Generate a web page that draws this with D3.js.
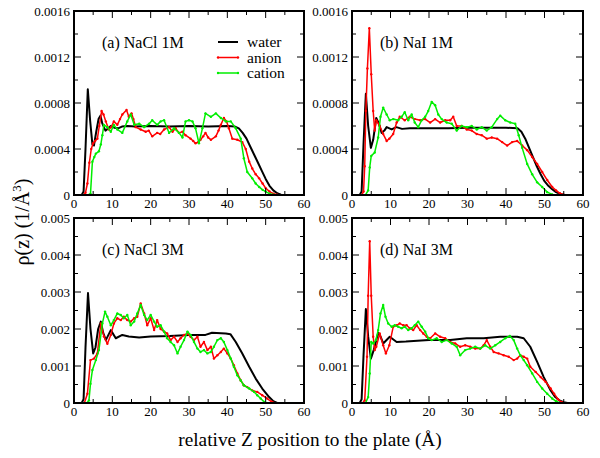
<!DOCTYPE html>
<html>
<head>
<meta charset="utf-8">
<script src="https://cdn.jsdelivr.net/npm/d3@7"></script>
<style>
  html, body { margin: 0; padding: 0; background: #fff; }
</style>
</head>
<body>
<svg id="chart" width="600" height="458"></svg>
<script>
// ---------- DATA (x in Å, y in panel units) ----------
const xTicks = [0, 10, 20, 30, 40, 50, 60];
const yTicks1M = ["0", "0.0004", "0.0008", "0.0012", "0.0016"];
const yTicks3M = ["0", "0.001", "0.002", "0.003", "0.004", "0.005"];
const panelLabels = ["(a) NaCl 1M", "(b) NaI 1M", "(c) NaCl 3M", "(d) NaI 3M"];
const seriesNames = ["water", "anion", "cation"];

// panel (a) NaCl 1M, y in 1e-4 Å^-3
const waterA = [[0,0],[2,0],[2.5,0.3],[3,4],[3.6,9.2],[4.2,6.5],[4.8,4.4],[5.2,4.3],[5.8,5.5],[6.4,6.6],[6.9,6.9],[7.4,6.2],[8.2,5.6],[9,5.8],[9.6,6.0],[10.5,5.85],[11.5,5.8],[12.5,5.95],[14,6.0],[16,5.95],[20,6.0],[25,5.95],[30,6.0],[35,5.95],[40,6.0],[42,5.95],[43,5.8],[44,5.4],[45,4.9],[46,4.2],[47,3.5],[48,2.8],[49,2.1],[50,1.4],[51,0.8],[52,0.4],[53,0.15],[54,0.03],[55,0],[60,0]];
const anionA = [[0,0],[2.5,0],[3,0.2],[3.5,1.0],[4,2.8],[4.5,4.0],[5,4.5],[5.5,4.7],[6.1,4.9],[6.6,6.0],[7.2,7.3],[7.7,7.0],[8.3,6.4],[9.1,5.7],[9.7,5.9],[10.4,6.4],[11.3,6.1],[12,6.6],[12.6,7.0],[13.7,7.4],[14.3,6.8],[15,7.1],[15.5,6.6],[16.1,5.9],[17.4,5.7],[18.7,5.5],[19.5,5.6],[20.4,5.1],[21.7,5.4],[22.5,5.3],[23.5,5.7],[24.8,5.9],[25.7,5.5],[26.5,5.8],[27.4,5.4],[28.3,5.5],[29.1,5.2],[30.4,4.9],[31.1,4.7],[31.7,4.5],[32.4,4.6],[33,4.8],[33.7,5.1],[34.3,5.4],[35,5.0],[35.7,4.8],[37,5.1],[37.7,5.6],[38.3,6.1],[39.1,6.7],[39.8,6.4],[40.4,5.8],[41.3,4.9],[42.6,4.8],[43.9,4.6],[44.8,4.0],[45.7,2.9],[46.5,2.3],[47.4,1.8],[48.3,1.45],[49.2,1.0],[50,0.6],[51,0.3],[52,0.12],[53,0.03],[54,0],[60,0]];
const cationA = [[0,0],[3.5,0],[4.3,0.1],[4.8,2.9],[5.3,3.3],[5.7,3.6],[6.5,3.8],[7.0,4.4],[7.4,5.2],[7.8,6.1],[8.7,5.9],[9.6,5.5],[10.4,6.1],[11.3,5.7],[12.6,5.4],[13.9,6.4],[14.8,7.0],[15.7,6.1],[17,6.2],[18.3,5.9],[19.6,6.2],[20.4,6.5],[21.7,6.1],[22.6,6.4],[23.5,6.5],[24.8,5.4],[26.1,5.8],[27.4,5.4],[28.3,5.0],[29.1,6.4],[30,6.5],[30.9,6.4],[31.7,5.8],[32.6,4.5],[33.5,5.8],[34.3,7.1],[35.7,6.8],[37,7.1],[38.3,6.7],[39.6,6.4],[40.9,6.4],[42.2,5.8],[43.5,4.9],[44.3,3.2],[45.2,2.0],[46.5,1.45],[47.4,1.0],[48.3,0.7],[49.2,0.45],[50,0.3],[51,0.12],[52,0.03],[53,0],[60,0]];

// panel (b) NaI 1M, y in 1e-4 Å^-3
const waterB = [[0,0],[2,0],[2.5,0.3],[3,4.5],[3.6,8.8],[4.2,6.0],[4.9,4.1],[5.5,4.8],[6.3,6.7],[7,6.2],[7.7,5.4],[8.4,5.6],[9,5.9],[10.3,5.7],[11.5,5.9],[13,5.75],[15,5.8],[20,5.8],[25,5.8],[30,5.85],[35,5.85],[40,5.85],[43,5.8],[44,5.5],[45,4.9],[46,4.1],[47,3.3],[48,2.5],[49,1.8],[50,1.2],[51,0.8],[52,0.5],[53,0.25],[54,0.1],[55,0.02],[56,0],[60,0]];
const anionB = [[0,0],[2.5,0],[3,0.3],[3.3,2.5],[3.6,7.3],[4.0,11],[4.5,14.5],[5.0,10.5],[5.5,7.3],[5.9,5.6],[6.3,6.5],[7.2,6.0],[8.1,5.3],[9,4.7],[9.7,4.9],[10.7,5.3],[11.6,6.3],[12.4,6.8],[13.7,6.5],[15,6.8],[16.3,6.6],[17.7,6.5],[19,6.6],[20.3,6.3],[21.6,6.6],[22.9,6.3],[24.2,6.5],[25.5,6.5],[26.3,6.8],[27.2,6.0],[28.5,6.0],[29.8,5.7],[31.1,5.6],[32.4,5.3],[33.7,5.2],[35,4.9],[36.3,5.0],[37.7,4.9],[39,4.6],[40.3,4.3],[41.6,4.6],[42.9,4.7],[44.2,4.3],[45.5,3.9],[46.8,3.3],[48.1,2.7],[49.4,2.0],[50.7,1.3],[52,0.7],[53,0.4],[54,0.15],[55,0.03],[56,0],[60,0]];
const cationB = [[0,0],[3.5,0],[4.2,0.4],[4.6,2.4],[5.0,3.4],[5.9,3.7],[6.8,5.0],[7.4,6.8],[8.1,7.6],[9,7.0],[9.8,6.5],[10.7,6.6],[12,6.5],[12.9,6.8],[13.7,7.2],[14.6,6.5],[15.5,7.0],[16.3,6.3],[17.2,5.9],[18.1,6.5],[19,6.8],[19.8,7.3],[20.7,8.1],[21.6,7.8],[22.4,7.0],[23.3,6.6],[24.6,6.3],[25.9,6.2],[27.2,5.6],[28.5,6.0],[29.8,5.9],[31.1,6.0],[32.4,5.7],[33.7,5.9],[35,5.6],[36.3,5.9],[37.7,6.6],[38.5,6.9],[39.8,6.5],[41.1,6.3],[42.4,6.2],[43.3,5.2],[44.2,4.1],[45.5,2.7],[46.8,1.8],[48.1,1.1],[49.4,0.7],[50.7,0.25],[52,0.05],[53,0],[60,0]];

// panel (c) NaCl 3M, y in 1e-3 Å^-3
const waterC = [[0,0],[2,0],[2.5,0.1],[3,1.5],[3.65,2.97],[4.3,2.0],[5.0,1.34],[5.6,1.5],[6.3,2.0],[7.0,2.2],[7.6,1.9],[8.3,1.7],[9.6,1.97],[10.9,1.75],[12.6,1.84],[14.3,1.8],[17,1.77],[20,1.8],[25,1.81],[30,1.84],[34.3,1.84],[36,1.9],[39.6,1.88],[40.8,1.86],[42.2,1.65],[43.9,1.34],[45.7,0.98],[47.4,0.66],[49.1,0.39],[50.9,0.16],[52,0.05],[53,0],[60,0]];
const anionC = [[0,0],[2.7,0],[3.5,0.25],[4.3,1.16],[5.2,1.2],[6.1,1.34],[7.0,2.15],[7.8,1.8],[8.7,1.6],[9.6,1.84],[10.4,2.15],[11.3,2.29],[12.2,2.24],[13,2.33],[13.9,2.24],[14.8,2.2],[15.7,2.29],[16.5,2.33],[17.4,2.69],[18.3,2.42],[19.1,2.1],[20,2.29],[20.9,1.97],[21.7,2.24],[22.6,2.0],[23.5,1.93],[24.3,1.88],[25.2,1.7],[26.1,1.79],[27,1.65],[27.8,1.75],[28.7,1.84],[29.6,1.88],[30.4,1.79],[31.3,1.7],[32.2,1.79],[33,1.52],[33.9,1.65],[34.8,1.43],[35.7,1.52],[36.5,1.2],[37.4,1.29],[38.3,1.38],[39.1,1.47],[40,1.34],[40.9,1.2],[41.7,1.02],[42.6,0.8],[43.5,0.61],[44.3,0.48],[45.2,0.43],[46.5,0.34],[47.8,0.3],[49.1,0.21],[50.4,0.12],[51.5,0.04],[52.5,0],[60,0]];
const cationC = [[0,0],[3.3,0],[3.9,0.07],[4.3,0.52],[4.8,0.89],[5.7,1.16],[6.5,1.43],[7.4,2.15],[8.1,2.47],[8.7,2.33],[9.6,2.1],[10.4,2.24],[11.3,2.42],[12.2,2.38],[13,2.29],[13.9,2.38],[14.8,2.1],[15.7,2.2],[16.5,2.42],[17.4,2.65],[18.3,2.38],[19.1,2.24],[20,2.38],[20.9,2.2],[21.7,2.06],[22.6,2.1],[23.5,1.93],[24.3,1.75],[25.2,1.65],[26.1,1.56],[27,1.34],[27.8,1.52],[28.7,1.7],[29.6,1.93],[30.4,1.84],[31.3,1.65],[32.2,1.47],[33,1.38],[33.9,1.43],[34.8,1.34],[35.7,1.38],[36.5,1.52],[37.4,1.7],[38.3,1.75],[39.1,1.65],[40,1.43],[40.9,1.2],[41.7,0.98],[42.6,0.75],[43.5,0.61],[44.3,0.48],[45.7,0.39],[47,0.3],[47.8,0.21],[48.7,0.12],[49.6,0.03],[50.5,0],[60,0]];

// panel (d) NaI 3M, y in 1e-3 Å^-3
const waterD = [[0,0],[2,0],[2.5,0.1],[3,1.3],[3.6,2.54],[4.2,1.8],[4.9,1.2],[5.7,1.45],[6.8,1.9],[7.4,1.8],[8.1,1.61],[9.8,1.79],[11.6,1.65],[14,1.66],[17,1.68],[20,1.7],[25.5,1.7],[29.8,1.75],[34.2,1.75],[38.5,1.79],[42.9,1.79],[44.6,1.75],[46.3,1.52],[48.1,1.11],[49.8,0.7],[51.6,0.34],[52.8,0.16],[54,0.06],[55,0.02],[56,0],[60,0]];
const anionD = [[0,0],[2.7,0],[3.3,0.07],[3.9,1.25],[4.2,2.9],[4.6,4.37],[5.0,2.9],[5.5,1.79],[5.9,1.43],[6.3,1.52],[7.2,1.88],[8.1,1.56],[8.8,1.34],[9.7,1.56],[10.7,2.06],[11.6,2.1],[12.4,2.15],[13.3,2.1],[14.2,2.1],[15,2.02],[15.9,1.97],[16.8,2.1],[17.7,1.97],[18.5,1.88],[19.4,1.79],[20.3,1.75],[21.6,1.88],[22.9,1.79],[24.2,1.75],[25.5,1.65],[26.8,1.61],[28.1,1.52],[29.4,1.56],[30.7,1.52],[32,1.47],[33.3,1.47],[34.2,1.56],[35,1.7],[35.9,1.52],[36.8,1.38],[38.1,1.34],[39.4,1.29],[40.7,1.25],[42,1.16],[42.9,1.2],[43.7,1.29],[44.6,1.25],[45.5,1.2],[46.3,0.98],[47.7,0.84],[49,0.7],[50.3,0.57],[51.6,0.39],[52.5,0.25],[53.5,0.1],[54.5,0.02],[55.5,0],[60,0]];
const cationD = [[0,0],[3.5,0],[4.2,0.16],[4.6,0.8],[5.0,1.65],[5.5,1.61],[6.2,1.7],[6.8,1.97],[7.4,2.42],[8.1,2.65],[8.7,2.33],[9.4,2.15],[10.3,2.06],[11.1,2.1],[12,2.06],[12.9,2.02],[13.7,2.06],[14.6,1.97],[15.5,2.02],[16.3,2.1],[17.2,2.2],[18.1,2.06],[19,1.93],[19.8,1.75],[20.7,1.7],[22,1.75],[23.3,1.65],[24.6,1.7],[25.9,1.61],[27.2,1.52],[28.1,1.29],[29.4,1.43],[30.7,1.47],[32,1.52],[33.3,1.47],[34.6,1.56],[35.9,1.47],[37.2,1.56],[38.5,1.65],[39.8,1.75],[41,1.81],[42,1.7],[42.9,1.47],[43.7,1.29],[44.6,1.16],[45.5,1.02],[46.8,0.8],[48.1,0.57],[49.4,0.39],[50.7,0.25],[52,0.12],[53,0.05],[54,0],[60,0]];

const unit1M = 1e-4, unit3M = 1e-3;

// ---------- LAYOUT ----------
const FONT = "Liberation Serif";
const colors = { water: "#000000", anion: "#ff0000", cation: "#00ee00" };
const panels = [
  { label: panelLabels[0], x0: 74,  x1: 304, y0: 11,  y1: 195, unit: unit1M, ymax: 0.0016, major: 0.0004, minor: 0.0002, ticks: yTicks1M, data: [waterA, anionA, cationA], legend: true },
  { label: panelLabels[1], x0: 352, x1: 583, y0: 11,  y1: 195, unit: unit1M, ymax: 0.0016, major: 0.0004, minor: 0.0002, ticks: yTicks1M, data: [waterB, anionB, cationB] },
  { label: panelLabels[2], x0: 74,  x1: 304, y0: 218, y1: 403, unit: unit3M, ymax: 0.005,  major: 0.001,  minor: 0.0005, ticks: yTicks3M, data: [waterC, anionC, cationC] },
  { label: panelLabels[3], x0: 352, x1: 583, y0: 218, y1: 403, unit: unit3M, ymax: 0.005,  major: 0.001,  minor: 0.0005, ticks: yTicks3M, data: [waterD, anionD, cationD] }
];

const svg = d3.select("#chart");
const defs = svg.append("defs");

function txt(sel, size) {
  return sel.style("font-family", FONT).attr("font-size", size).attr("fill", "#000");
}

panels.forEach(p => {
  const x = d3.scaleLinear().domain([0, 60]).range([p.x0, p.x1]);
  const y = d3.scaleLinear().domain([0, p.ymax]).range([p.y1, p.y0]);
  const g = svg.append("g");

  const cid = "clip" + p.x0 + "_" + p.y0;
  defs.append("clipPath").attr("id", cid)
    .append("rect").attr("x", p.x0).attr("y", p.y0).attr("width", p.x1 - p.x0).attr("height", p.y1 - p.y0);

  const line = d3.line().x(d => x(d[0])).y(d => y(d[1] * p.unit));
  const plot = g.append("g").attr("clip-path", "url(#" + cid + ")");

  p.data.forEach((series, i) => {
    const name = seriesNames[i];
    plot.append("path").datum(series)
      .attr("d", line)
      .attr("fill", "none")
      .attr("stroke", colors[name])
      .attr("stroke-width", name === "water" ? 2 : 1.5)
      .attr("stroke-linejoin", "round");
    if (name !== "water") {
      plot.selectAll(null).data(series.filter(d => d[1] > 0)).enter()
        .append("circle")
        .attr("cx", d => x(d[0])).attr("cy", d => y(d[1] * p.unit))
        .attr("r", 1.2).attr("fill", colors[name]);
    }
  });

  // ticks (inward, mirrored on all sides)
  const tk = g.append("g").attr("stroke", "#000").attr("stroke-width", 1);
  d3.range(0, 60.01, 5).forEach(v => {
    const len = (v % 10 === 0) ? 7 : 4;
    tk.append("line").attr("x1", x(v)).attr("x2", x(v)).attr("y1", p.y1).attr("y2", p.y1 - len);
    tk.append("line").attr("x1", x(v)).attr("x2", x(v)).attr("y1", p.y0).attr("y2", p.y0 + len);
  });
  const nMinor = Math.round(p.ymax / p.minor);
  d3.range(0, nMinor + 1).forEach(k => {
    const v = k * p.minor;
    const len = (k % 2 === 0) ? 7 : 4;
    tk.append("line").attr("x1", p.x0).attr("x2", p.x0 + len).attr("y1", y(v)).attr("y2", y(v));
    tk.append("line").attr("x1", p.x1).attr("x2", p.x1 - len).attr("y1", y(v)).attr("y2", y(v));
  });

  // frame
  g.append("rect").attr("x", p.x0).attr("y", p.y0).attr("width", p.x1 - p.x0).attr("height", p.y1 - p.y0)
    .attr("fill", "none").attr("stroke", "#000").attr("stroke-width", 2);

  // tick labels
  xTicks.forEach(v => {
    txt(g.append("text"), 13).attr("x", x(v)).attr("y", p.y1 + 13).attr("text-anchor", "middle").text(v);
  });
  p.ticks.forEach((t, k) => {
    txt(g.append("text"), 13).attr("x", p.x0 - 4).attr("y", y(k * p.major)).attr("dy", "0.35em")
      .attr("text-anchor", "end").text(t);
  });

  // panel label
  txt(g.append("text"), 16).attr("x", p.x0 + 28).attr("y", p.y0 + 37).text(p.label);

  if (p.legend) {
    const lg = g.append("g");
    seriesNames.forEach((name, i) => {
      const ly = p.y0 + 31 + i * 15.5;
      lg.append("line").attr("x1", p.x0 + 144).attr("x2", p.x0 + 164).attr("y1", ly).attr("y2", ly)
        .attr("stroke", colors[name]).attr("stroke-width", name === "water" ? 2 : 1.5);
      if (name !== "water") {
        [p.x0 + 144, p.x0 + 164].forEach(cx => lg.append("circle").attr("cx", cx).attr("cy", ly).attr("r", 1.2).attr("fill", colors[name]));
      }
      txt(lg.append("text"), 15.5).attr("x", p.x0 + 173).attr("y", ly + 5).text(name);
    });
  }
});

// axis titles
txt(svg.append("text"), 19.3).attr("x", 310).attr("y", 446).attr("text-anchor", "middle")
  .text("relative Z position to the plate (Å)");

const yt = txt(svg.append("text"), 20).attr("transform", "translate(29,222) rotate(-90)")
  .attr("text-anchor", "middle");
yt.append("tspan").text("ρ(z) (1/Å");
yt.append("tspan").attr("font-size", 13).attr("dy", -8).text("3");
yt.append("tspan").attr("dy", 8).text(")");
</script>
</body>
</html>
